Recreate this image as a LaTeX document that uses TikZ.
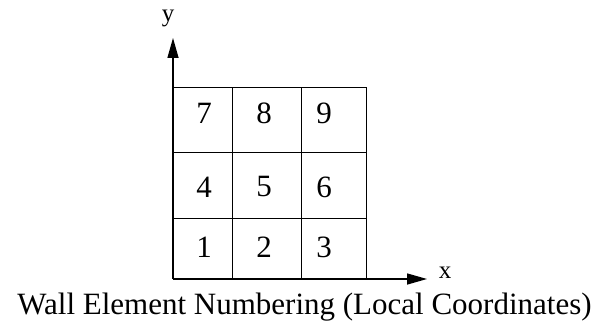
\documentclass[tikz,border=0pt]{standalone}
\usepackage{fontspec}
\setmainfont{Liberation Serif}
\usetikzlibrary{arrows.meta}
\begin{document}
\begin{tikzpicture}[x=1pt, y=1pt, every node/.style={inner sep=0pt}, zahl/.style={font=\fontsize{31}{36}\selectfont}, titelschrift/.style={font=\fontsize{31}{36}\selectfont}, achse/.style={font=\fontsize{25}{28}\selectfont}]
		\useasboundingbox (0,0) rectangle (607,322);
		
		%Koordinatensystem
		\coordinate (O) at (173,43);
		\coordinate (xend) at (427,43);
		\coordinate (yend) at (173,284);
		\draw[line width=1.5pt, -{Triangle[length=20pt,width=11pt]}] (O) -- (xend);
		\draw[line width=1.5pt, -{Triangle[length=20pt,width=11pt]}] (O) -- (yend);
		\node[achse, anchor=base] (xlab) at (445,44) {x};
		\node[achse, anchor=base] (ylab) at (168,300) {y};
		
		%waagrechte Striche
		\draw[] (173,104) -- (366,104);
		\draw[] (173,170) -- (366,170);
		\draw[] (173,235) -- (366,235);
		
		%senkrechte Striche
		\draw[] (232,43) -- (232,235);
		\draw[] (301,43) -- (301,235);
		\draw[] (366,43) -- (366,235);
		
		%Nummern
		\node[zahl] (n1) at (204,75) {1};
		\node[zahl] (n2) at (264,75) {2};
		\node[zahl] (n3) at (324,75) {3};
		\node[zahl] (n4) at (204,135) {4};
		\node[zahl] (n5) at (264,135) {5};
		\node[zahl] (n6) at (324,135) {6};
		\node[zahl] (n7) at (204,209) {7};
		\node[zahl] (n8) at (264,209) {8};
		\node[zahl] (n9) at (324,209) {9};
		
		%Beschriftung
		\node[titelschrift, anchor=base] (titel) at (304.5,8) {Wall Element Numbering (Local Coordinates)};
		
\end{tikzpicture}
\end{document}
